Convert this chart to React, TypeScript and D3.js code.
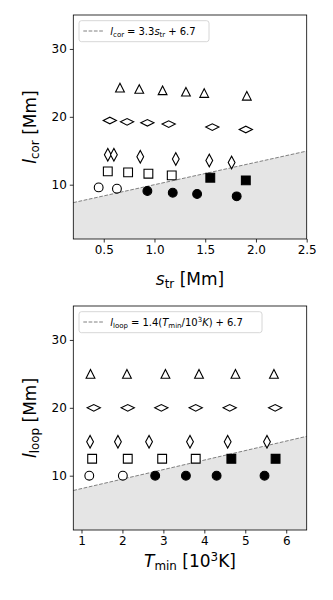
import React, { useEffect, useRef } from 'react';
import * as d3 from 'd3';

// ---- top panel: l_cor vs s_tr ----
const corTriX = [0.66, 0.85, 1.08, 1.31, 1.49, 1.91];
const corTriY = [24.3, 24.1, 23.9, 23.7, 23.5, 23.1];
const corWideX = [0.56, 0.73, 0.93, 1.14, 1.57, 1.9];
const corWideY = [19.46, 19.26, 19.12, 18.93, 18.49, 18.13];
const corThinX = [0.54, 0.6, 0.86, 1.21, 1.54, 1.76];
const corThinY = [14.41, 14.41, 14.12, 13.78, 13.57, 13.28];
const corSquareX = [0.54, 0.74, 0.94, 1.17, 1.55, 1.9];
const corSquareY = [11.96, 11.81, 11.62, 11.37, 11.03, 10.63];
const corCircleX = [0.45, 0.63, 0.93, 1.18, 1.42, 1.81];
const corCircleY = [9.6, 9.41, 9.07, 8.82, 8.63, 8.28];
const corXTicks = [0.5, 1.0, 1.5, 2.0, 2.5];

// ---- bottom panel: l_loop vs T_min ----
const loopTriX = [1.22, 2.11, 3.05, 3.87, 4.76, 5.7];
const loopTriY = [25, 25, 25, 25, 25, 25];
const loopWideX = [1.3, 2.13, 2.95, 3.79, 4.62, 5.73];
const loopWideY = [20, 20, 20, 20, 20, 20];
const loopThinX = [1.21, 1.89, 2.65, 3.65, 4.57, 5.53];
const loopThinY = [15, 15, 15, 15, 15, 15];
const loopSquareX = [1.26, 2.13, 2.97, 3.79, 4.66, 5.74];
const loopSquareY = [12.5, 12.5, 12.5, 12.5, 12.5, 12.5];
const loopCircleX = [1.19, 2.01, 2.8, 3.55, 4.3, 5.47];
const loopCircleY = [10, 10, 10, 10, 10, 10];
const loopXTicks = [1, 2, 3, 4, 5, 6];

const yTicks = [10, 20, 30];

const FONT = "'DejaVu Sans', sans-serif";

// marker outlines, centred on 0,0
const shapes = {
  tri: 'M0,-4.3L4.4,4.3L-4.4,4.3Z',
  wide: 'M-6.6,0L0,-3.3L6.6,0L0,3.3Z',
  thin: 'M-3.4,0L0,-6.3L3.4,0L0,6.3Z',
  square: 'M-4.4,-4.4H4.4V4.4H-4.4Z',
};

// each part: [text, style, dx]
// styles: i italic, sub/subi subscript (roman/italic), sup superscript, base back to baseline
function addRich(sel, parts, size: number) {
  let shift = 0; // current baseline offset
  parts.forEach(([txt, kind, dx]) => {
    const t = sel.append('tspan').text(txt);
    let target = 0;
    if (kind === 'i' || kind === 'subi') t.style('font-style', 'italic');
    if (kind === 'sub' || kind === 'subi') { t.style('font-size', size * 0.7 + 'px'); target = size * 0.2; }
    if (kind === 'sup') { t.style('font-size', size * 0.7 + 'px'); target = -size * 0.38; }
    t.attr('dy', target - shift);
    if (dx) t.attr('dx', dx);
    shift = target;
  });
}

function drawPanel(svg, cfg) {
  const { top, bottom, left, right, xDomain, yDomain, xTicks, slope, icpt, sets } = cfg;
  const x = d3.scaleLinear().domain(xDomain).range([left, right]);
  const y = d3.scaleLinear().domain(yDomain).range([bottom, top]);
  const g = svg.append('g');

  g.append('clipPath').attr('id', cfg.id).append('rect')
    .attr('x', left).attr('y', top).attr('width', right - left).attr('height', bottom - top);

  // shaded region under fit line
  const xs = xDomain;
  const area = d3.area<number>()
    .x(d => x(d))
    .y0(y(yDomain[0]))
    .y1(d => y(slope * d + icpt));
  g.append('path').datum(xs).attr('d', area).attr('fill', '#e5e5e5');

  const line = d3.line<number>().x(d => x(d)).y(d => y(slope * d + icpt));
  g.append('path').datum(xs).attr('d', line)
    .attr('fill', 'none').attr('stroke', '#808080').attr('stroke-width', 1)
    .attr('stroke-dasharray', '3.7,1.6');

  // markers
  const mk = g.append('g').attr('clip-path', `url(#${cfg.id})`);
  sets.forEach(({ xs: px, ys: py, shape }) => {
    const pts = px.map((v, i) => ({ x: v, y: py[i] }));
    const below = d => d.y < slope * d.x + icpt;
    if (shape === 'circle') {
      mk.selectAll(null).data(pts).enter().append('circle')
        .attr('cx', d => x(d.x)).attr('cy', d => y(d.y)).attr('r', 4.4)
        .attr('fill', d => (below(d) ? '#000' : '#fff'))
        .attr('stroke', '#000').attr('stroke-width', 1.1);
    } else {
      mk.selectAll(null).data(pts).enter().append('path')
        .attr('d', shapes[shape])
        .attr('transform', d => `translate(${x(d.x)},${y(d.y)})`)
        .attr('fill', d => (below(d) ? '#000' : '#fff'))
        .attr('stroke', '#000').attr('stroke-width', 1.1)
        .attr('stroke-linejoin', 'miter');
    }
  });

  // axes
  const xAxis = g.append('g').attr('transform', `translate(0,${bottom})`)
    .call(d3.axisBottom(x).tickValues(xTicks).tickSize(3.5).tickPadding(3)
      .tickFormat(cfg.xFormat));
  const yAxis = g.append('g').attr('transform', `translate(${left},0)`)
    .call(d3.axisLeft(y).tickValues(yTicks).tickSize(3.5).tickPadding(3));
  [xAxis, yAxis].forEach(a => {
    a.select('.domain').remove();
    a.selectAll('line').attr('stroke', '#000').attr('stroke-width', 0.8);
    a.selectAll('text').style('font-family', FONT).style('font-size', '12px').attr('fill', '#000');
  });

  // frame
  g.append('rect').attr('x', left).attr('y', top)
    .attr('width', right - left).attr('height', bottom - top)
    .attr('fill', 'none').attr('stroke', '#000').attr('stroke-width', 0.8);

  // legend
  const lg = g.append('g');
  lg.append('rect').attr('x', left + 5.7).attr('y', top + 5.7)
    .attr('width', cfg.legendW).attr('height', 21).attr('rx', 2.5)
    .attr('fill', '#fff').attr('fill-opacity', 0.8)
    .attr('stroke', '#ccc').attr('stroke-width', 0.8);
  lg.append('line').attr('x1', left + 10).attr('x2', left + 30)
    .attr('y1', top + 16).attr('y2', top + 16)
    .attr('stroke', '#808080').attr('stroke-width', 1).attr('stroke-dasharray', '3.7,1.6');
  const lt = lg.append('text').attr('x', left + 37).attr('y', top + 19.5)
    .style('font-family', FONT).style('font-size', '10px').attr('fill', '#000');
  addRich(lt, cfg.legend, 10);

  // axis labels
  const xl = g.append('text').attr('x', (left + right) / 2).attr('y', cfg.xLabelY)
    .attr('text-anchor', 'middle')
    .style('font-family', FONT).style('font-size', '17px').attr('fill', '#000');
  addRich(xl, cfg.xLabel, 17);
  const yl = g.append('text')
    .attr('transform', `translate(36,${(top + bottom) / 2}) rotate(-90)`)
    .attr('text-anchor', 'middle')
    .style('font-family', FONT).style('font-size', '17px').attr('fill', '#000');
  addRich(yl, cfg.yLabel, 17);
}

export default function App() {
  const svgRef = useRef<SVGSVGElement>(null);

  useEffect(() => {
    const svg = d3.select(svgRef.current);
    svg.selectAll('*').remove();

    drawPanel(svg, {
      id: 'clipTop',
      top: 15, bottom: 239, left: 73.3, right: 306.7,
      xDomain: [0.2, 2.5], yDomain: [2, 35],
      xTicks: corXTicks, xFormat: d3.format('.1f'),
      slope: 3.3, icpt: 6.7,
      sets: [
        { xs: corTriX, ys: corTriY, shape: 'tri' },
        { xs: corWideX, ys: corWideY, shape: 'wide' },
        { xs: corThinX, ys: corThinY, shape: 'thin' },
        { xs: corSquareX, ys: corSquareY, shape: 'square' },
        { xs: corCircleX, ys: corCircleY, shape: 'circle' },
      ],
      legendW: 130,
      legend: [['l', 'i'], ['cor', 'sub'], ['=', 'base', 3], ['3.3', 'base', 3], ['s', 'i'], ['tr', 'sub'], ['+', 'base', 3], ['6.7', 'base', 3]],
      xLabelY: 285,
      xLabel: [['s', 'i'], ['tr', 'sub'], [' [Mm]', 'base']],
      yLabel: [['l', 'i'], ['cor', 'sub'], [' [Mm]', 'base']],
    });

    drawPanel(svg, {
      id: 'clipBottom',
      top: 306, bottom: 530, left: 73.3, right: 306.7,
      xDomain: [0.8, 6.5], yDomain: [2, 35],
      xTicks: loopXTicks, xFormat: d3.format('d'),
      slope: 1.4, icpt: 6.7,
      sets: [
        { xs: loopTriX, ys: loopTriY, shape: 'tri' },
        { xs: loopWideX, ys: loopWideY, shape: 'wide' },
        { xs: loopThinX, ys: loopThinY, shape: 'thin' },
        { xs: loopSquareX, ys: loopSquareY, shape: 'square' },
        { xs: loopCircleX, ys: loopCircleY, shape: 'circle' },
      ],
      legendW: 183,
      legend: [['l', 'i'], ['loop', 'sub'], ['=', 'base', 3], ['1.4(', 'base', 3], ['T', 'i'], ['min', 'sub'], ['/10', 'base'], ['3', 'sup'], ['K', 'i'], [')', 'base'], ['+', 'base', 3], ['6.7', 'base', 3]],
      xLabelY: 567,
      xLabel: [['T', 'i'], ['min', 'sub'], [' [10', 'base'], ['3', 'sup'], ['K]', 'base']],
      yLabel: [['l', 'i'], ['loop', 'sub'], [' [Mm]', 'base']],
    });
  }, []);

  return (
    <svg ref={svgRef} width={333} height={600}
      style={{ position: 'absolute', left: 0, top: 0, background: '#fff' }} />
  );
}
